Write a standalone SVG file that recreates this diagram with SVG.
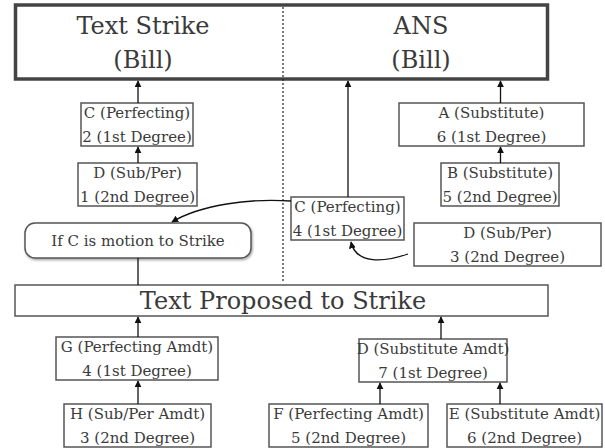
<svg xmlns="http://www.w3.org/2000/svg" width="605" height="448" viewBox="0 0 605 448">
  <defs>
    <marker id="arrow" viewBox="0 0 10 10" refX="9" refY="5" markerWidth="7" markerHeight="7" markerUnits="userSpaceOnUse" orient="auto">
      <path d="M0,0 L10,5 L0,10 z" fill="#111"/>
    </marker>
    <filter id="shadow" x="-5%" y="-10%" width="112%" height="130%">
      <feDropShadow dx="1" dy="1.5" stdDeviation="1" flood-color="#000" flood-opacity="0.35"/>
    </filter>
    <style>
      .box { fill: #fff; stroke: #555; stroke-width: 1.5; }
      .frame { fill: #fff; stroke: #444; stroke-width: 3.5; }
      .t { font-family: "DejaVu Serif", "Liberation Serif", serif; font-size: 15px; fill: #3a3a3a; text-anchor: middle; }
      .big { font-size: 24px; }
      .wire { fill: none; stroke: #111; stroke-width: 1.3; }
      .dots { fill: none; stroke: #222; stroke-width: 1.2; stroke-dasharray: 2 2; }
    </style>
  </defs>

  <rect width="605" height="448" fill="#fff"/>

  <!-- Bill: text strike vs. ANS -->
  <g id="bill">
    <rect class="frame" x="15.5" y="5" width="532" height="74"/>
    <text class="t big" x="143" y="34">Text Strike</text>
    <text class="t big" x="143" y="68">(Bill)</text>
    <text class="t big" x="421" y="34">ANS</text>
    <text class="t big" x="421" y="68">(Bill)</text>
  </g>

  <g id="c-perfecting-2">
    <rect class="box" x="81" y="103" width="112" height="43"/>
    <text class="t" x="137" y="118">C (Perfecting)</text>
    <text class="t" x="137" y="142">2 (1st Degree)</text>
  </g>

  <g id="d-subper-1">
    <rect class="box" x="78" y="163" width="119" height="43"/>
    <text class="t" x="137.5" y="178">D (Sub/Per)</text>
    <text class="t" x="137.5" y="202">1 (2nd Degree)</text>
  </g>

  <g id="if-c-strike">
    <rect class="box" x="25" y="223" width="226" height="35" rx="10" ry="10" filter="url(#shadow)"/>
    <text class="t" x="138" y="246">If C is motion to Strike</text>
  </g>

  <g id="a-substitute-6">
    <rect class="box" x="399" y="103" width="185" height="43"/>
    <text class="t" x="491.5" y="118">A (Substitute)</text>
    <text class="t" x="491.5" y="142">6 (1st Degree)</text>
  </g>

  <g id="b-substitute-5">
    <rect class="box" x="441" y="163" width="118" height="43"/>
    <text class="t" x="500" y="178">B (Substitute)</text>
    <text class="t" x="500" y="202">5 (2nd Degree)</text>
  </g>

  <g id="c-perfecting-4">
    <rect class="box" x="291" y="197" width="113" height="43"/>
    <text class="t" x="347.5" y="212">C (Perfecting)</text>
    <text class="t" x="347.5" y="236">4 (1st Degree)</text>
  </g>

  <g id="d-subper-3">
    <rect class="box" x="414" y="223" width="187" height="43"/>
    <text class="t" x="507.5" y="238">D (Sub/Per)</text>
    <text class="t" x="507.5" y="262">3 (2nd Degree)</text>
  </g>

  <g id="text-proposed">
    <rect class="box" x="15" y="285" width="533" height="31"/>
    <text class="t big" x="283" y="309">Text Proposed to Strike</text>
  </g>

  <g id="g-perfecting">
    <rect class="box" x="56" y="337" width="162" height="43"/>
    <text class="t" x="137" y="352">G (Perfecting Amdt)</text>
    <text class="t" x="137" y="376">4 (1st Degree)</text>
  </g>

  <g id="h-subper">
    <rect class="box" x="64" y="404" width="147" height="43"/>
    <text class="t" x="137.5" y="419">H (Sub/Per Amdt)</text>
    <text class="t" x="137.5" y="443">3 (2nd Degree)</text>
  </g>

  <g id="d-substitute">
    <rect class="box" x="359" y="339" width="148" height="43"/>
    <text class="t" x="433" y="354">D (Substitute Amdt)</text>
    <text class="t" x="433" y="378">7 (1st Degree)</text>
  </g>

  <g id="f-perfecting">
    <rect class="box" x="269" y="404" width="159" height="43"/>
    <text class="t" x="348.5" y="419">F (Perfecting Amdt)</text>
    <text class="t" x="348.5" y="443">5 (2nd Degree)</text>
  </g>

  <g id="e-substitute">
    <rect class="box" x="447" y="404" width="155" height="43"/>
    <text class="t" x="524.5" y="419">E (Substitute Amdt)</text>
    <text class="t" x="524.5" y="443">6 (2nd Degree)</text>
  </g>

  <!-- connectors -->
  <g id="connectors">
    <line class="dots" x1="283" y1="7" x2="283" y2="281"/>
    <line class="wire" x1="138" y1="103" x2="138" y2="81" marker-end="url(#arrow)"/>
    <line class="wire" x1="138" y1="163" x2="138" y2="147" marker-end="url(#arrow)"/>
    <line class="wire" x1="138" y1="258" x2="138" y2="285"/>
    <line class="wire" x1="348" y1="197" x2="348" y2="81" marker-end="url(#arrow)"/>
    <line class="wire" x1="500.5" y1="103" x2="500.5" y2="81" marker-end="url(#arrow)"/>
    <line class="wire" x1="500.5" y1="163" x2="500.5" y2="147" marker-end="url(#arrow)"/>
    <path class="wire" d="M291,201 C250,198 200,205 172,222" marker-end="url(#arrow)"/>
    <path class="wire" d="M408,254 C385,262 356,265 351,242" marker-end="url(#arrow)"/>
    <line class="wire" x1="138" y1="337" x2="138" y2="317" marker-end="url(#arrow)"/>
    <line class="wire" x1="441" y1="339" x2="441" y2="317" marker-end="url(#arrow)"/>
    <line class="wire" x1="138" y1="404" x2="138" y2="381" marker-end="url(#arrow)"/>
    <line class="wire" x1="380" y1="404" x2="380" y2="383" marker-end="url(#arrow)"/>
    <line class="wire" x1="500" y1="404" x2="500" y2="383" marker-end="url(#arrow)"/>
  </g>
</svg>
